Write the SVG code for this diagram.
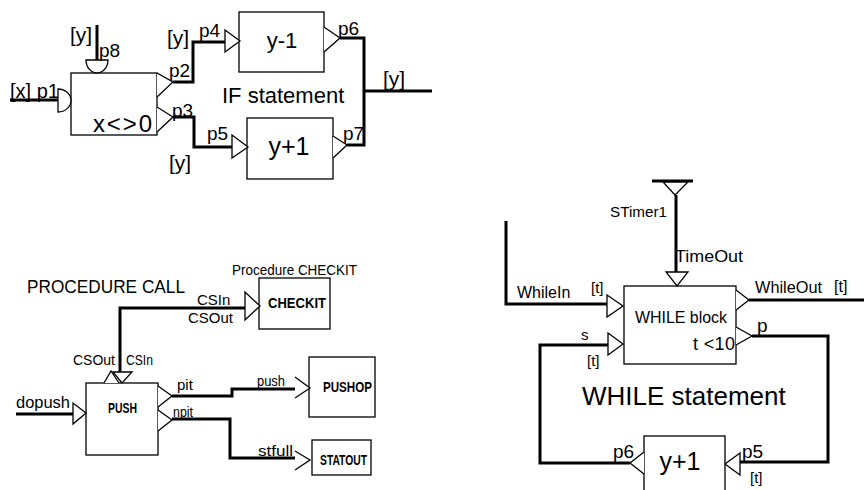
<svg xmlns="http://www.w3.org/2000/svg" width="864" height="490" viewBox="0 0 864 490">
<style>
text{font-family:"Liberation Sans",Arial,sans-serif;fill:#000}
.box{fill:#fff;stroke:#000;stroke-width:1.3}
.port{fill:#fff;stroke:#000;stroke-width:1.3;stroke-linejoin:miter}
.wire{fill:none;stroke:#000;stroke-width:3;stroke-linejoin:miter}
.lbl{font-size:19px}
.big{font-size:21px}
.sm{font-size:15px}
.bold{font-size:14px;font-weight:bold}
</style>
<rect width="864" height="490" fill="#fff"/>

<g id="connectors">
  <!-- IF -->
  <path class="wire" d="M97,25 V60"/>
  <path class="wire" d="M10,100 H58"/>
  <path class="wire" d="M173,82 H193 V42 H225"/>
  <path class="wire" d="M173,117 H194 V147 H232"/>
  <path class="wire" d="M340,38 H364 V145 H347"/>
  <path class="wire" d="M364,91 H432"/>
  <!-- Procedure -->
  <path class="wire" d="M245,308 H120 V372"/>
  <path class="wire" d="M16,414 H73"/>
  <path class="wire" d="M172,396 H232 V389 H295"/>
  <path class="wire" d="M172,419 H230 V458 H295"/>
  <!-- WHILE -->
  <path class="wire" d="M652,181 H693"/>
  <path class="wire" d="M676,195 V272"/>
  <path class="wire" d="M506,221 V304 H607"/>
  <path class="wire" d="M749,300 H864"/>
  <path class="wire" d="M752,336 H828 V462 H740"/>
  <path class="wire" d="M608,345 H540 V463 H630"/>
</g>

<!-- IF statement -->
<g id="if-cond">
  <rect class="box" x="71" y="73" width="86" height="62"/>
  <path class="port" d="M86,60 H108 A11,13 0 0 1 86,60 Z"/>
  <path class="port" d="M58,89 V112 A13,11.5 0 0 0 58,89 Z"/>
  <path class="port" d="M157,73 L173,82 L157,97"/>
  <path class="port" d="M157,107 L173,117 L157,132"/>
  <text x="93" y="132" font-size="24" textLength="59">x&lt;&gt;0</text>
</g>
<g id="if-dec">
  <rect class="box" x="239" y="12" width="85" height="60"/>
  <path class="port" d="M225,30 L240,41 L225,52 Z"/>
  <path class="port" d="M324,27 L340,38 L324,52"/>
  <text x="282" y="48" font-size="22" text-anchor="middle">y-1</text>
</g>
<g id="if-inc">
  <rect class="box" x="247" y="118" width="86" height="61"/>
  <path class="port" d="M232,135 L248,147 L232,158 Z"/>
  <path class="port" d="M333,136 L347,145 L333,158"/>
  <text x="289" y="155" font-size="25" text-anchor="middle">y+1</text>
</g>
<g id="if-labels">
  <text class="big" x="70" y="42">[y]</text>
  <text class="lbl" x="99" y="57">p8</text>
  <text x="10" y="98" font-size="20">[x] p1</text>
  <text class="lbl" x="169" y="77">p2</text>
  <text class="lbl" x="172" y="117">p3</text>
  <text class="big" x="167" y="45">[y]</text>
  <text class="lbl" x="199" y="37">p4</text>
  <text class="lbl" x="338" y="35">p6</text>
  <text class="lbl" x="343" y="140">p7</text>
  <text class="lbl" x="207" y="140">p5</text>
  <text class="big" x="169" y="170">[y]</text>
  <text class="big" x="383" y="86">[y]</text>
  <text x="222" y="103" font-size="22">IF statement</text>
</g>

<!-- PROCEDURE CALL -->
<text x="27" y="293" font-size="18.5" textLength="158" lengthAdjust="spacingAndGlyphs">PROCEDURE CALL</text>
<g id="checkit">
  <rect class="box" x="259" y="278" width="71" height="51"/>
  <path class="port" d="M245,292 L260,306 L245,320 Z"/>
  <text class="bold" x="268" y="308" textLength="58" lengthAdjust="spacingAndGlyphs">CHECKIT</text>
  <text x="232" y="275" font-size="15" textLength="125" lengthAdjust="spacingAndGlyphs">Procedure CHECKIT</text>
  <text class="sm" x="197" y="305">CSIn</text>
  <text class="sm" x="188" y="323">CSOut</text>
</g>
<g id="push">
  <rect class="box" x="86" y="383" width="72" height="72"/>
  <path class="port" d="M104,383 L111,371 L119,383"/>
  <path class="port" d="M113,372 L132,372 L122,383 Z"/>
  <path class="port" d="M73,403 L86,413 L73,424 Z"/>
  <path class="port" d="M158,386 L172,396 L158,407"/>
  <path class="port" d="M158,410 L172,420 L158,431"/>
  <text class="bold" x="108" y="413" textLength="29" lengthAdjust="spacingAndGlyphs">PUSH</text>
  <text class="sm" x="73" y="365" textLength="42" lengthAdjust="spacingAndGlyphs">CSOut</text>
  <text class="sm" x="126" y="365" textLength="27" lengthAdjust="spacingAndGlyphs">CSIn</text>
  <text x="16" y="408" font-size="16" textLength="54" lengthAdjust="spacingAndGlyphs">dopush</text>
  <text x="177" y="390" font-size="15">pit</text>
  <text x="173" y="417" font-size="14" textLength="20" lengthAdjust="spacingAndGlyphs">npit</text>
</g>
<g id="pushop">
  <rect class="box" x="309" y="357" width="66" height="60"/>
  <path class="port" d="M295,377 L310,388 L295,398"/>
  <text class="bold" x="323" y="392" textLength="49" lengthAdjust="spacingAndGlyphs">PUSHOP</text>
  <text x="257" y="386" font-size="14" textLength="28" lengthAdjust="spacingAndGlyphs">push</text>
</g>
<g id="statout">
  <rect class="box" x="312" y="440" width="59" height="35"/>
  <path class="port" d="M295,451 L310,460 L295,470"/>
  <text class="bold" x="320" y="465" textLength="47" lengthAdjust="spacingAndGlyphs">STATOUT</text>
  <text x="258" y="456" font-size="15" textLength="35" lengthAdjust="spacingAndGlyphs">stfull</text>
</g>

<!-- WHILE statement -->
<g id="stimer">
  <path class="port" d="M663,182 L688,182 L675,195 Z"/>
  <text class="sm" x="610" y="217" textLength="57" lengthAdjust="spacingAndGlyphs">STimer1</text>
</g>
<g id="while-block">
  <rect class="box" x="624" y="286" width="112" height="78"/>
  <path class="port" d="M666,272 L688,272 L677,286 Z"/>
  <path class="port" d="M607,295 L623,306 L607,317 Z"/>
  <path class="port" d="M608,333 L623,344 L608,355 Z"/>
  <path class="port" d="M736,290 L749,300 L736,310"/>
  <path class="port" d="M736,327 L752,336 L736,345"/>
  <text x="635" y="323" font-size="16" textLength="92" lengthAdjust="spacingAndGlyphs">WHILE block</text>
  <text x="693" y="350" font-size="18" textLength="42">t &lt;10</text>
  <text x="675" y="262" font-size="16" textLength="68" lengthAdjust="spacingAndGlyphs">TimeOut</text>
  <text x="517" y="298" font-size="16">WhileIn</text>
  <text x="591" y="293" font-size="15">[t]</text>
  <text x="755" y="293" font-size="16" textLength="67" lengthAdjust="spacingAndGlyphs">WhileOut</text>
  <text x="834" y="292" font-size="16">[t]</text>
  <text x="757" y="332" font-size="19">p</text>
  <text x="581" y="340" font-size="15">s</text>
  <text x="587" y="366" font-size="15">[t]</text>
</g>
<g id="while-inc">
  <rect class="box" x="644" y="436" width="81" height="60"/>
  <path class="port" d="M644,452 L630,463 L644,474"/>
  <path class="port" d="M740,453 L725,464 L740,475 Z"/>
  <text x="680" y="470" font-size="25" text-anchor="middle">y+1</text>
  <text class="lbl" x="613" y="458">p6</text>
  <text class="lbl" x="742" y="458">p5</text>
  <text x="750" y="483" font-size="15">[t]</text>
</g>
<text x="582" y="405" font-size="26">WHILE statement</text>
</svg>
